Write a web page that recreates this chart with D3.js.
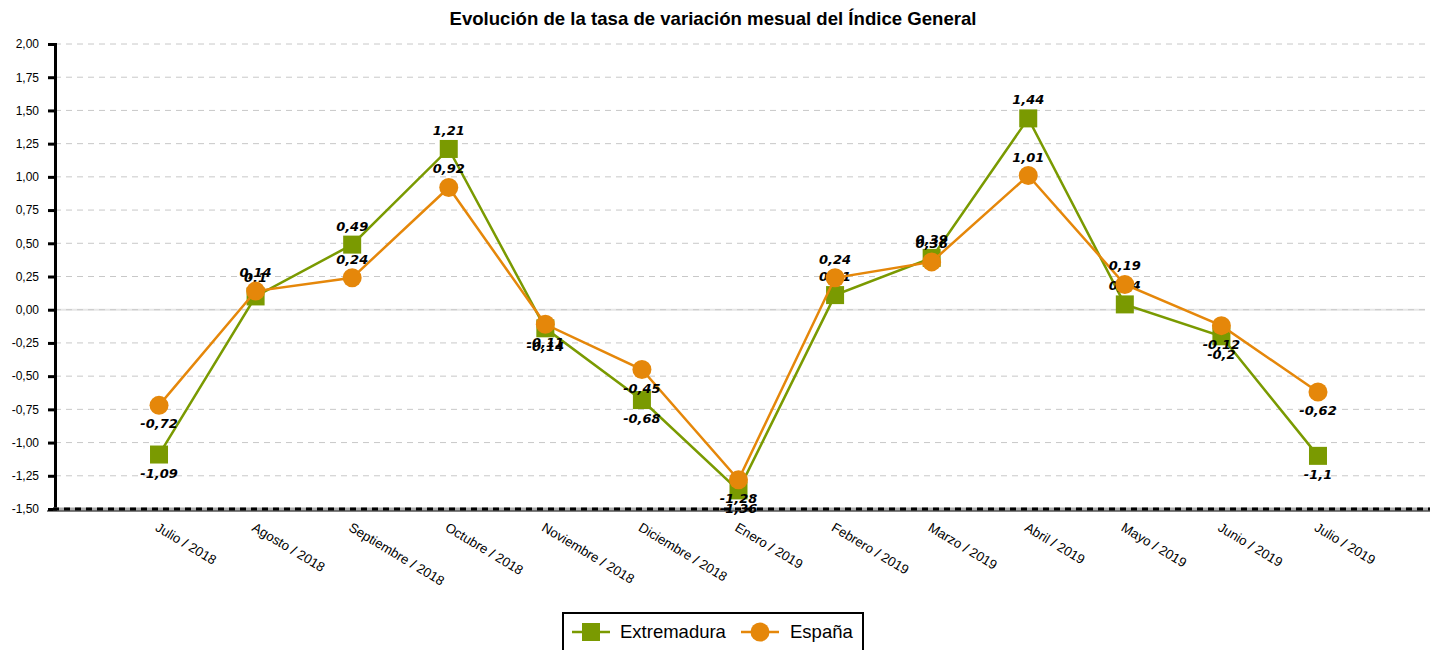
<!DOCTYPE html>
<html>
<head>
<meta charset="utf-8">
<script src="https://cdn.jsdelivr.net/npm/d3@7/dist/d3.min.js"></script>
<style>
  body { margin: 0; background: #fff; }
  svg { display: block; }
</style>
</head>
<body>
<svg id="chart" width="1430" height="650"></svg>
<script>
const categories = ["Julio / 2018","Agosto / 2018","Septiembre / 2018","Octubre / 2018","Noviembre / 2018","Diciembre / 2018","Enero / 2019","Febrero / 2019","Marzo / 2019","Abril / 2019","Mayo / 2019","Junio / 2019","Julio / 2019"];
const extremadura = [-1.09, 0.1, 0.49, 1.21, -0.14, -0.68, -1.36, 0.11, 0.39, 1.44, 0.04, -0.2, -1.1];
const espana = [-0.72, 0.14, 0.24, 0.92, -0.11, -0.45, -1.28, 0.24, 0.36, 1.01, 0.19, -0.12, -0.62];
const yTicks = [2.0, 1.75, 1.5, 1.25, 1.0, 0.75, 0.5, 0.25, 0.0, -0.25, -0.5, -0.75, -1.0, -1.25, -1.5];
const seriesNames = ["Extremadura", "España"];

(function () {
const GREEN = "#7a9a01", ORANGE = "#e5870a";
const svg = d3.select("#chart");
const pLeft = 55, pRight = 1422, pTop = 44, pBottom = 509;

const x = d3.scalePoint().domain(categories).range([pLeft, pRight]).padding(1.077);
const y = d3.scaleLinear().domain([-1.5, 2.0]).range([pBottom, pTop]);
const fmt = v => String(v).replace(".", ",");
const fmt2 = v => v.toFixed(2).replace(".", ",");

// title
svg.append("text").attr("x", 713).attr("y", 25).attr("text-anchor", "middle")
  .attr("font-family", "Liberation Sans, Arial, sans-serif").attr("font-weight", "bold")
  .attr("font-size", 18.6).attr("fill", "#000")
  .text("Evolución de la tasa de variación mesual del Índice General");

// grid
svg.append("line").attr("x1", pLeft).attr("x2", 1425).attr("y1", y(0)).attr("y2", y(0))
  .attr("stroke", "#e6e6e6").attr("stroke-width", 2);
svg.append("g").selectAll("line").data(yTicks.filter(t => t > -1.5)).join("line")
  .attr("x1", pLeft).attr("x2", 1425).attr("y1", d => y(d)).attr("y2", d => y(d))
  .attr("stroke", "#c8c8c8").attr("stroke-width", 1).attr("stroke-dasharray", "6,5");

// y axis
const yAxis = d3.axisLeft(y).tickValues(yTicks).tickFormat(fmt2).tickSize(7).tickPadding(9);
const gy = svg.append("g").attr("transform", `translate(${pLeft},0)`).call(yAxis);
gy.select(".domain").attr("stroke", "#000").attr("stroke-width", 3);
gy.selectAll(".tick line").attr("stroke", "#000").attr("stroke-width", 3);
gy.selectAll(".tick text").attr("font-family", "Liberation Sans, Arial, sans-serif")
  .attr("font-size", 12).attr("fill", "#000");

// x axis
const xAxis = d3.axisBottom(x).tickSize(0).tickPadding(0);
const gx = svg.append("g").attr("transform", `translate(0,${pBottom})`).call(xAxis);
gx.select(".domain").remove();
gx.selectAll(".tick text")
  .attr("font-family", "Liberation Sans, Arial, sans-serif").attr("font-size", 13.3).attr("fill", "#000")
  .attr("text-anchor", "start").attr("dy", 0)
  .attr("transform", "translate(-5,21) rotate(31)");
svg.append("line").attr("x1", pLeft - 2).attr("x2", 1430).attr("y1", pBottom).attr("y2", pBottom)
  .attr("stroke", "#aaaaaa").attr("stroke-width", 3);
svg.append("line").attr("x1", pLeft - 2).attr("x2", 1430).attr("y1", pBottom).attr("y2", pBottom)
  .attr("stroke", "#000").attr("stroke-width", 3).attr("stroke-dasharray", "6,5");
svg.append("line").attr("x1", pLeft - 8).attr("x2", 1430).attr("y1", pBottom + 2).attr("y2", pBottom + 2)
  .attr("stroke", "#000").attr("stroke-width", 1.2);

const line = d3.line().x((d, i) => x(categories[i])).y(d => y(d));

function drawSeries(vals, color, shape) {
  const g = svg.append("g");
  g.append("path").datum(vals).attr("d", line).attr("fill", "none")
    .attr("stroke", color).attr("stroke-width", 2.5);
  if (shape === "square") {
    g.selectAll("rect").data(vals).join("rect")
      .attr("x", (d, i) => x(categories[i]) - 9).attr("y", d => y(d) - 9)
      .attr("width", 18).attr("height", 18).attr("fill", color);
  } else {
    g.selectAll("circle").data(vals).join("circle")
      .attr("cx", (d, i) => x(categories[i])).attr("cy", d => y(d)).attr("r", 9.5)
      .attr("fill", color);
  }
}
function drawLabels(vals) {
  svg.append("g").selectAll("text").data(vals).join("text")
    .attr("x", (d, i) => x(categories[i]))
    .attr("y", d => d >= 0 ? y(d) - 14 : y(d) + 23)
    .attr("text-anchor", "middle")
    .attr("font-family", "DejaVu Sans, Verdana, sans-serif").attr("font-weight", "bold")
    .attr("font-style", "italic").attr("font-size", 13).attr("fill", "#000")
    .text(d => fmt(d));
}
drawSeries(extremadura, GREEN, "square");
drawLabels(extremadura);
drawSeries(espana, ORANGE, "circle");
drawLabels(espana);

// legend
const lg = svg.append("g");
lg.append("rect").attr("x", 563).attr("y", 613).attr("width", 300).attr("height", 45)
  .attr("fill", "#fff").attr("stroke", "#000").attr("stroke-width", 2);
const items = [{name: seriesNames[0], color: GREEN, shape: "square", x0: 572, tx: 620},
               {name: seriesNames[1], color: ORANGE, shape: "circle", x0: 741, tx: 790}];
items.forEach(it => {
  lg.append("line").attr("x1", it.x0).attr("x2", it.x0 + 38).attr("y1", 632).attr("y2", 632)
    .attr("stroke", it.color).attr("stroke-width", 2.5);
  if (it.shape === "square") {
    lg.append("rect").attr("x", it.x0 + 10).attr("y", 623).attr("width", 18).attr("height", 18).attr("fill", it.color);
  } else {
    lg.append("circle").attr("cx", it.x0 + 19).attr("cy", 632).attr("r", 9.5).attr("fill", it.color);
  }
  lg.append("text").attr("x", it.tx).attr("y", 638).attr("font-family", "Liberation Sans, Arial, sans-serif")
    .attr("font-size", 18.5).attr("fill", "#000").text(it.name);
});
})();
</script>
</body>
</html>
